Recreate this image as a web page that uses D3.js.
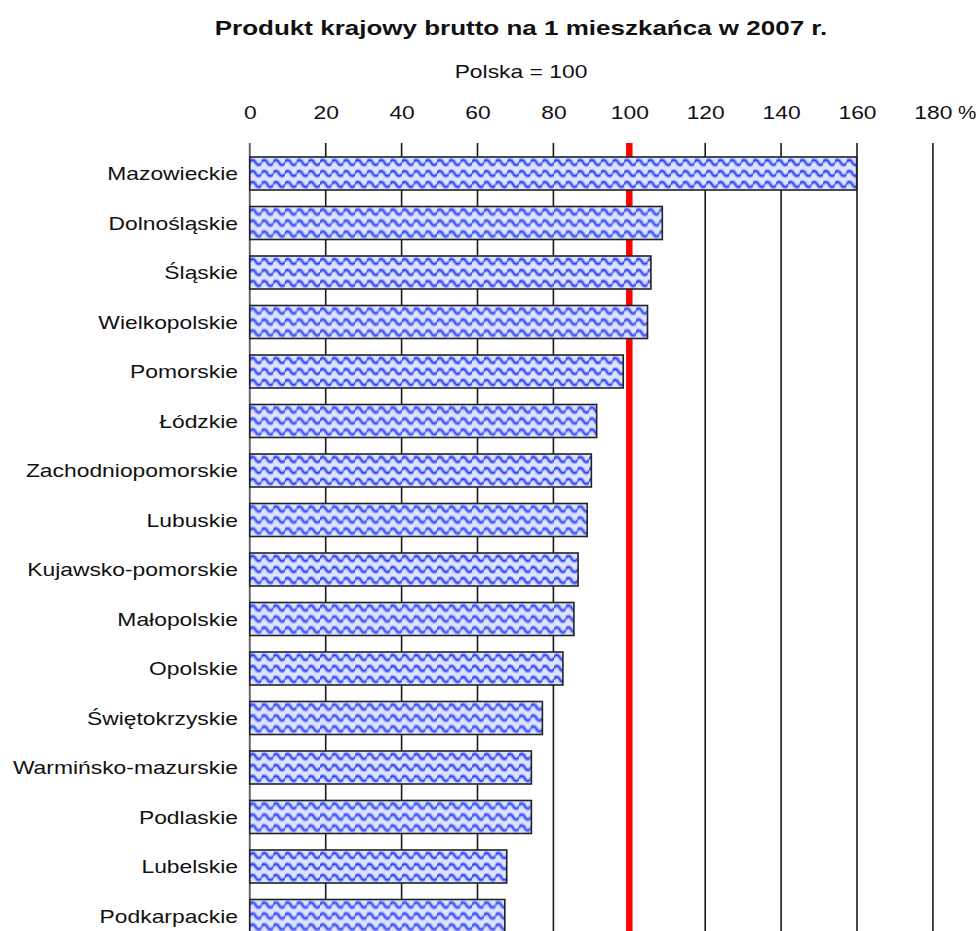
<!DOCTYPE html>
<html>
<head>
<meta charset="utf-8">
<script src="https://cdn.jsdelivr.net/npm/d3@7"></script>
<style>
  html, body { margin: 0; padding: 0; background: #fff; }
  svg { display: block; }
  text { font-family: "Liberation Sans", Arial, sans-serif; fill: #111; }
</style>
</head>
<body>
<svg id="chart" width="979" height="931"></svg>
<script>
const title = "Produkt krajowy brutto na 1 mieszkańca w 2007 r.";
const subtitle = "Polska = 100";
const categories = ["Mazowieckie", "Dolnośląskie", "Śląskie", "Wielkopolskie", "Pomorskie", "Łódzkie",
  "Zachodniopomorskie", "Lubuskie", "Kujawsko-pomorskie", "Małopolskie", "Opolskie", "Świętokrzyskie",
  "Warmińsko-mazurskie", "Podlaskie", "Lubelskie", "Podkarpackie"];
const values = [159.9, 108.7, 105.7, 104.8, 98.4, 91.4, 90.0, 88.9, 86.5, 85.4, 82.5, 77.1, 74.2, 74.2, 67.7, 67.2];
const tickValues = [0, 20, 40, 60, 80, 100, 120, 140, 160, 180];
const referenceValue = 100;
const unitLabel = "%";

const svg = d3.select("#chart");
const SX = 1.27; // horizontal stretch of the text in the reference
const FS = "18px";

const x = d3.scaleLinear().domain([0, 180]).range([249.8, 249.8 + 180 * 3.795]);
const step = 49.5;
const y = d3.scaleBand().domain(categories)
  .range([148.75, 148.75 + categories.length * step])
  .paddingInner(1 / 3).paddingOuter(1 / 6);

const gridTop = 143, gridBottom = 931;

// pattern
const defs = svg.append("defs");
const PW = 11.7, PH = 11;
const pat = defs.append("pattern").attr("id", "wave")
  .attr("patternUnits", "userSpaceOnUse")
  .attr("x", 0).attr("y", 0).attr("width", PW).attr("height", PH);
pat.append("rect").attr("width", PW).attr("height", PH).attr("fill", "#dde4ff");
const wavePath = `M-0.5,5.5 C${PW*0.14},2.1 ${PW*0.36},2.1 ${PW/2},5.5 C${PW*0.64},8.9 ${PW*0.86},8.9 ${PW+0.5},5.5`;
pat.append("path").attr("d", wavePath).attr("fill", "none").attr("stroke", "#8e9dff").attr("stroke-width", 4);
pat.append("path").attr("d", wavePath).attr("fill", "none").attr("stroke", "#2a3cf2").attr("stroke-width", 1.4);

// title
svg.append("text")
  .attr("transform", `translate(521,35) scale(1.3,1)`)
  .attr("text-anchor", "middle")
  .style("font-weight", "bold").style("font-size", "20px")
  .text(title);
svg.append("text")
  .attr("transform", `translate(521,78) scale(${SX},1)`)
  .attr("text-anchor", "middle")
  .style("font-size", FS)
  .text(subtitle);

// gridlines
svg.append("g").selectAll("line").data(tickValues.filter(d => d > 0)).join("line")
  .attr("x1", d => x(d)).attr("x2", d => x(d))
  .attr("y1", gridTop).attr("y2", gridBottom)
  .attr("stroke", "#1a1a1a").attr("stroke-width", 1.6);

// axis at 0
svg.append("line")
  .attr("x1", x(0)).attr("x2", x(0)).attr("y1", gridTop).attr("y2", gridBottom)
  .attr("stroke", "#666").attr("stroke-width", 2);

// reference line
svg.append("line")
  .attr("x1", x(referenceValue)).attr("x2", x(referenceValue))
  .attr("y1", gridTop).attr("y2", gridBottom)
  .attr("stroke", "#ff0000").attr("stroke-width", 6.5);

// top axis labels
const axis = d3.axisTop(x).tickValues(tickValues).tickSize(0).tickPadding(0).tickFormat(d3.format("d"));
const axG = svg.append("g").attr("transform", "translate(0,119)").call(axis);
axG.select(".domain").remove();
axG.selectAll("text")
  .attr("y", 0).attr("dy", 0)
  .attr("transform", `scale(${SX},1)`)
  .style("font-size", FS).style("font-family", "'Liberation Sans', Arial, sans-serif")
  .attr("fill", "#111");
svg.append("text")
  .attr("transform", `translate(${x(180) + 25},119) scale(1.15,1)`)
  .attr("text-anchor", "start").style("font-size", FS)
  .text(unitLabel);

// bars
const bars = svg.append("g").selectAll("g").data(categories).join("g")
  .attr("transform", d => `translate(${x(0)},${y(d)})`);
bars.append("rect")
  .attr("x", 0).attr("y", 0)
  .attr("width", (d, i) => x(values[i]) - x(0))
  .attr("height", y.bandwidth())
  .attr("fill", "url(#wave)")
  .attr("stroke", "#222").attr("stroke-width", 1.6);

// category labels
svg.append("g").selectAll("text").data(categories).join("text")
  .attr("transform", d => `translate(238,${y(d) + y.bandwidth() / 2 + 6.5}) scale(${SX},1)`)
  .attr("text-anchor", "end")
  .style("font-size", FS)
  .text(d => d);
</script>
</body>
</html>
